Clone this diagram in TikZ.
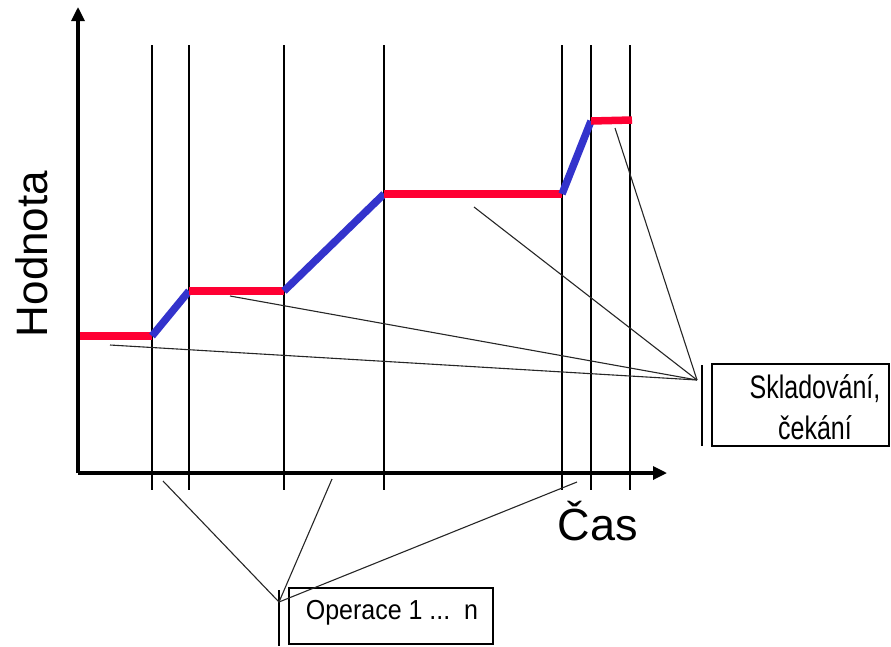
\documentclass[tikz,border=0pt]{standalone}
\usepackage{fontspec}
\setmainfont{Liberation Sans}
\usetikzlibrary{arrows.meta}
\begin{document}
\begin{tikzpicture}[x=1pt,y=-1pt,
  axis/.style={line width=3.2pt,-{Triangle[length=14pt,width=13pt]}},
  grid/.style={line width=1.4pt},
  wait/.style={line width=7.5pt,color=wred},
  oper/.style={line width=7.5pt,color=wblue},
  callout/.style={line width=1.1pt,color=black!85},
  box/.style={draw,line width=1.1pt,inner sep=0pt}]
\definecolor{wred}{RGB}{255,0,51}
\definecolor{wblue}{RGB}{51,51,204}
\useasboundingbox (0,0) rectangle (891,646);
% grid lines
\foreach \gx in {152,189,284,384,562,591,630}
  \draw[grid] (\gx,45) -- (\gx,490);
% axes
\coordinate (o) at (78,473);
\coordinate (ytop) at (78,7);
\coordinate (xend) at (667,473);
\draw[axis] (o) -- (ytop);
\draw[axis] (o) -- (xend);
% curve points
\coordinate (p0) at (80,336);
\coordinate (p1) at (152,336);
\coordinate (p2) at (189,291);
\coordinate (p3) at (284,291);
\coordinate (p4) at (384,194);
\coordinate (p5) at (562,194);
\coordinate (p6) at (591,121);
\coordinate (p7) at (632,120);
\draw[wait] (p0) -- (p1);
\draw[oper] (p1) -- (p2);
\draw[wait] (p2) -- (p3);
\draw[oper] (p3) -- (p4);
\draw[wait] (p4) -- (p5);
\draw[oper] (p5) -- (p6);
\draw[wait] (p6) -- (p7);
% labels
\node[rotate=90,font=\fontsize{44}{50}\selectfont] (hod) at (32,254) {Hodnota};
\node[font=\fontsize{45}{50}\selectfont] (cas) at (598,521) {Čas};
% Skladovani box
\node[box,minimum width=177pt,minimum height=82pt] (skl) at (800.5,405) {};
\node[font=\fontsize{25}{32}\selectfont,align=center,yscale=1.3] (skltxt) at (815,407) {Skladování,\\čekání};
\coordinate (sa) at (697,380);
\coordinate (sbar1) at (702,365);
\coordinate (sbar2) at (702,446);
\draw[line width=1.1pt] (sbar1) -- (sbar2);
\coordinate (s1) at (110,345);
\coordinate (s2) at (230,296);
\coordinate (s3) at (474,207);
\coordinate (s4) at (615,128);
\foreach \t in {s1,s2,s3,s4} \draw[callout] (sa) -- (\t);
% Operace box
\node[box,minimum width=204pt,minimum height=56pt] (ope) at (391,616) {};
\node[font=\fontsize{25}{30}\selectfont,yscale=1.1] (opetxt) at (392,613) {Operace 1 ...~~n};
\coordinate (oa) at (279,602);
\coordinate (obar1) at (279,590);
\coordinate (obar2) at (279,646);
\draw[line width=1.1pt] (obar1) -- (obar2);
\coordinate (o1) at (163,481);
\coordinate (o2) at (332,479);
\coordinate (o3) at (577,482);
\foreach \t in {o1,o2,o3} \draw[callout] (oa) -- (\t);
\end{tikzpicture}
\end{document}
